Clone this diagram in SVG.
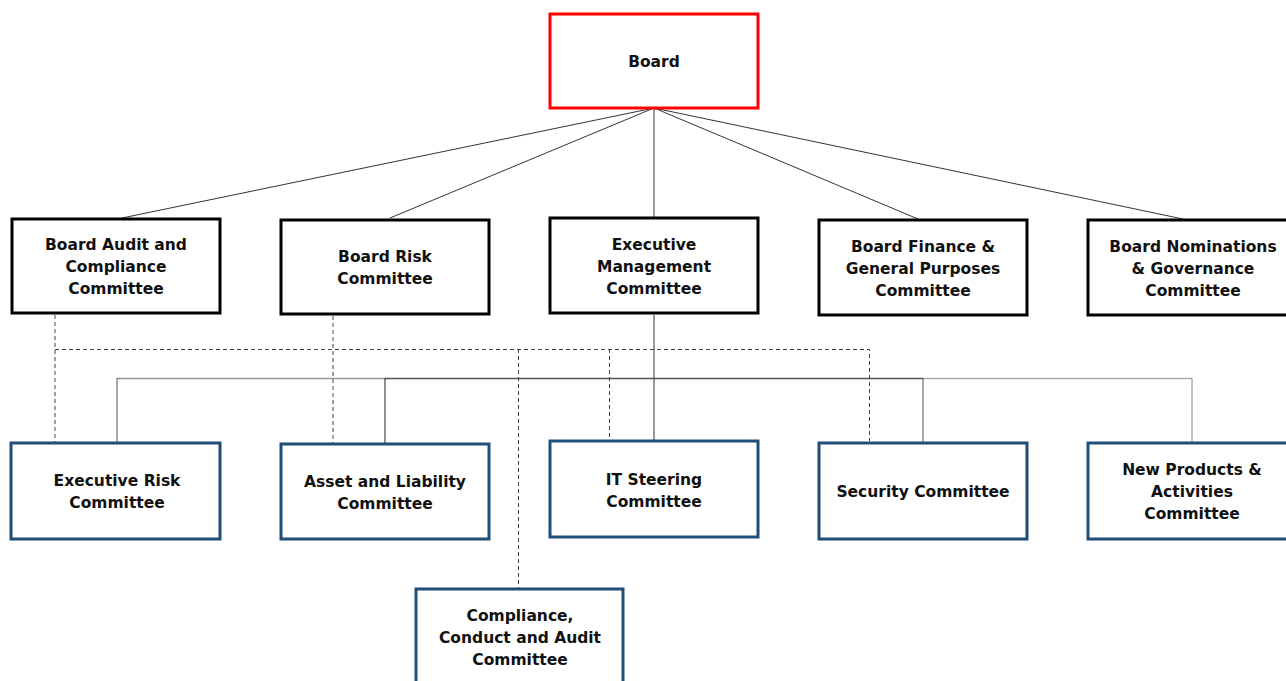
<svg xmlns="http://www.w3.org/2000/svg" width="1286" height="681" viewBox="0 0 1286 681">
<style>
.t{font-family:"DejaVu Sans","Liberation Sans",Arial,sans-serif;font-weight:bold;font-size:15.5px;fill:#111;text-anchor:middle}
.board{fill:#fff;stroke:#ff0000;stroke-width:3}
.blk{fill:#fff;stroke:#000;stroke-width:3}
.blu{fill:#fff;stroke:#1f4e79;stroke-width:3}
.ln{stroke:#333;stroke-width:1;fill:none}
.dash{stroke:#444;stroke-width:1;fill:none;stroke-dasharray:4,3}
</style>
<rect width="1286" height="681" fill="#fff"/>
<g id="connectors">
<line class="ln" x1="654" y1="108" x2="122" y2="218"/>
<line class="ln" x1="654" y1="108" x2="390" y2="218"/>
<line class="ln" x1="654" y1="108" x2="654" y2="218"/>
<line class="ln" x1="654" y1="108" x2="918" y2="219"/>
<line class="ln" x1="654" y1="108" x2="1183" y2="219"/>
<line class="ln" x1="654" y1="315" x2="654" y2="441"/>
<line x1="117" y1="378.5" x2="385" y2="378.5" stroke="#999" stroke-width="1.5"/>
<line x1="385" y1="378.5" x2="923" y2="378.5" stroke="#555" stroke-width="1.5"/>
<line x1="923" y1="378.5" x2="1192" y2="378.5" stroke="#aaa" stroke-width="1.5"/>
<line x1="117" y1="378" x2="117" y2="443" stroke="#555" stroke-width="1"/>
<line x1="385" y1="378" x2="385" y2="444" stroke="#222" stroke-width="1"/>
<line x1="923" y1="378" x2="923" y2="443" stroke="#555" stroke-width="1"/>
<line x1="1192" y1="378" x2="1192" y2="443" stroke="#888" stroke-width="1"/>
<line class="dash" x1="55" y1="315" x2="55" y2="443"/>
<line class="dash" x1="333" y1="316" x2="333" y2="444"/>
<polyline class="dash" points="55,349.5 869.5,349.5 869.5,441"/>
<line class="dash" x1="518.5" y1="349" x2="518.5" y2="589"/>
<line class="dash" x1="609.5" y1="349" x2="609.5" y2="441"/>
</g>
<g id="board"><rect class="board" x="550" y="14" width="208" height="94"/><text class="t" x="654" y="67">Board</text></g>
<g id="audit"><rect class="blk" x="12" y="219" width="208" height="94"/><text class="t" x="116" y="250">Board Audit and</text><text class="t" x="116" y="272">Compliance</text><text class="t" x="116" y="294">Committee</text></g>
<g id="risk"><rect class="blk" x="281" y="220" width="208" height="94"/><text class="t" x="385" y="262">Board Risk</text><text class="t" x="385" y="284">Committee</text></g>
<g id="exec"><rect class="blk" x="550" y="218" width="208" height="95"/><text class="t" x="654" y="250">Executive</text><text class="t" x="654" y="272">Management</text><text class="t" x="654" y="294">Committee</text></g>
<g id="finance"><rect class="blk" x="819" y="220" width="208" height="95"/><text class="t" x="923" y="252">Board Finance &amp;</text><text class="t" x="923" y="274">General Purposes</text><text class="t" x="923" y="296">Committee</text></g>
<g id="nominations"><rect class="blk" x="1088" y="220" width="210" height="95"/><text class="t" x="1193" y="252">Board Nominations</text><text class="t" x="1193" y="274">&amp; Governance</text><text class="t" x="1193" y="296">Committee</text></g>
<g id="execrisk"><rect class="blu" x="11" y="443" width="209" height="96"/><text class="t" x="117" y="486">Executive Risk</text><text class="t" x="117" y="508">Committee</text></g>
<g id="alco"><rect class="blu" x="281" y="444" width="208" height="95"/><text class="t" x="385" y="487">Asset and Liability</text><text class="t" x="385" y="509">Committee</text></g>
<g id="it"><rect class="blu" x="550" y="441" width="208" height="96"/><text class="t" x="654" y="485">IT Steering</text><text class="t" x="654" y="507">Committee</text></g>
<g id="security"><rect class="blu" x="819" y="443" width="208" height="96"/><text class="t" x="923" y="497">Security Committee</text></g>
<g id="newproducts"><rect class="blu" x="1088" y="443" width="210" height="96"/><text class="t" x="1192" y="475">New Products &amp;</text><text class="t" x="1192" y="497">Activities</text><text class="t" x="1192" y="519">Committee</text></g>
<g id="compliance"><rect class="blu" x="416" y="589" width="207" height="100"/><text class="t" x="520" y="621">Compliance,</text><text class="t" x="520" y="643">Conduct and Audit</text><text class="t" x="520" y="665">Committee</text></g>
</svg>
